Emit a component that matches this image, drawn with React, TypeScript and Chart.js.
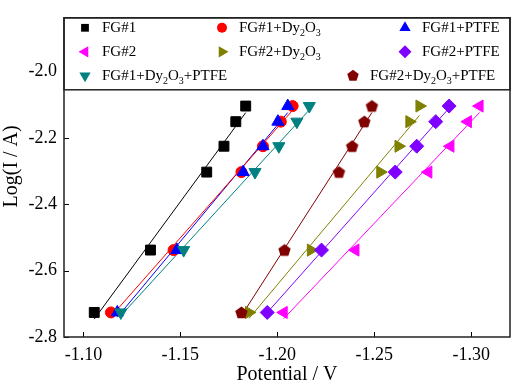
import React, { useEffect, useRef } from 'react';
import { Chart, registerables } from 'chart.js';

Chart.register(...registerables);

// log(I / A) levels at which every sample was measured
const logCurrent = [-2.726, -2.538, -2.303, -2.225, -2.151, -2.104];

// Potential (V) for each sample at the levels above
const fg1 = [-1.1056, -1.1346, -1.1636, -1.1725, -1.1786, -1.1837];
const fg1Dy = [-1.1142, -1.1465, -1.1815, -1.1926, -1.2018, -1.2079];
const fg1Ptfe = [-1.1175, -1.1482, -1.1824, -1.1926, -1.2003, -1.2054];
const fg2 = [-1.2033, -1.2403, -1.2779, -1.2893, -1.2983, -1.3043];
const fg2Dy = [-1.1854, -1.2173, -1.2531, -1.2625, -1.2681, -1.2733];
const fg2Ptfe = [-1.1948, -1.2228, -1.2608, -1.2719, -1.2817, -1.2886];
const fg1DyPtfe = [-1.1193, -1.1517, -1.1885, -1.2008, -1.2101, -1.2165];
const fg2DyPtfe = [-1.1815, -1.2037, -1.2318, -1.2386, -1.2449, -1.2488];

const xTicks = [-1.1, -1.15, -1.2, -1.25, -1.3];
const yTicks = [-2.8, -2.6, -2.4, -2.2, -2.0];

const SERIF = '"Liberation Serif", "Times New Roman", serif';

type Marker = 'rect' | 'circle' | 'triangle' | 'rectRot' | 'pentagon';

interface SeriesStyle {
  label: string;
  values: number[];
  color: string;
  marker: Marker;
  rotation: number;
  radius: number;
  legendRadius: number;
}

const series: SeriesStyle[] = [
  { label: 'FG#1', values: fg1, color: '#000000', marker: 'rect', rotation: 0, radius: 7, legendRadius: 5.5 },
  { label: 'FG#1+Dy₂O₃', values: fg1Dy, color: '#ff0000', marker: 'circle', rotation: 0, radius: 5.5, legendRadius: 5 },
  { label: 'FG#1+PTFE', values: fg1Ptfe, color: '#0000ff', marker: 'triangle', rotation: 0, radius: 7, legendRadius: 6.5 },
  { label: 'FG#2', values: fg2, color: '#ff00ff', marker: 'triangle', rotation: -90, radius: 7, legendRadius: 6.5 },
  { label: 'FG#2+Dy₂O₃', values: fg2Dy, color: '#808000', marker: 'triangle', rotation: 90, radius: 7, legendRadius: 6.5 },
  { label: 'FG#2+PTFE', values: fg2Ptfe, color: '#8000ff', marker: 'rectRot', rotation: 0, radius: 7, legendRadius: 6.5 },
  { label: 'FG#1+Dy₂O₃+PTFE', values: fg1DyPtfe, color: '#008080', marker: 'triangle', rotation: 180, radius: 7, legendRadius: 6.5 },
  { label: 'FG#2+Dy₂O₃+PTFE', values: fg2DyPtfe, color: '#800000', marker: 'pentagon', rotation: 0, radius: 6.5, legendRadius: 6 },
];

// legend slot offsets (marker centre) from the top-left corner of the plot area
const legendSlots = [
  { dx: 21, dy: 10 }, { dx: 158, dy: 10 }, { dx: 341, dy: 10 },
  { dx: 21, dy: 34 }, { dx: 158, dy: 34 }, { dx: 341, dy: 34 },
  { dx: 21, dy: 58 }, { dx: 289, dy: 58 },
];
const LEGEND_HEIGHT = 72;

function markerPath(ctx: CanvasRenderingContext2D, marker: Marker, x: number, y: number, r: number, rotation: number) {
  ctx.beginPath();
  if (marker === 'circle') {
    ctx.arc(x, y, r, 0, Math.PI * 2);
  } else if (marker === 'rect') {
    const s = r * Math.SQRT1_2;
    ctx.rect(x - s, y - s, 2 * s, 2 * s);
  } else {
    const n = marker === 'triangle' ? 3 : marker === 'rectRot' ? 4 : 5;
    const base = (rotation * Math.PI) / 180;
    for (let k = 0; k < n; k++) {
      const a = base + (k * 2 * Math.PI) / n;
      const px = x + Math.sin(a) * r;
      const py = y - Math.cos(a) * r;
      if (k === 0) ctx.moveTo(px, py);
      else ctx.lineTo(px, py);
    }
  }
  ctx.closePath();
}

function pentagonImage(r: number, color: string): HTMLCanvasElement {
  const size = Math.ceil(2 * r + 2);
  const c = document.createElement('canvas');
  c.width = size;
  c.height = size;
  const g = c.getContext('2d')!;
  g.fillStyle = color;
  markerPath(g, 'pentagon', size / 2, size / 2 + 0.5, r, 0);
  g.fill();
  return c;
}

// least-squares line through a series, drawn across its potential range
function fitLine(xs: number[], ys: number[]) {
  const n = xs.length;
  const mx = xs.reduce((s, v) => s + v, 0) / n;
  const my = ys.reduce((s, v) => s + v, 0) / n;
  let sxy = 0;
  let sxx = 0;
  for (let i = 0; i < n; i++) {
    sxy += (xs[i] - mx) * (ys[i] - my);
    sxx += (xs[i] - mx) * (xs[i] - mx);
  }
  const b = sxy / sxx;
  const a = my - b * mx;
  const x0 = xs[0];
  const x1 = xs[n - 1];
  return [
    { x: x0, y: a + b * x0 },
    { x: x1, y: a + b * x1 },
  ];
}

function drawRichLabel(ctx: CanvasRenderingContext2D, text: string, x: number, y: number) {
  const subs: Record<string, string> = { '₂': '2', '₃': '3' };
  let cx = x;
  let buf = '';
  const flush = () => {
    if (!buf) return;
    ctx.font = `15px ${SERIF}`;
    ctx.fillText(buf, cx, y);
    cx += ctx.measureText(buf).width;
    buf = '';
  };
  for (const ch of text) {
    if (subs[ch]) {
      flush();
      ctx.font = `10px ${SERIF}`;
      ctx.fillText(subs[ch], cx, y + 6);
      cx += ctx.measureText(subs[ch]).width;
    } else {
      buf += ch;
    }
  }
  flush();
}

const framePlugin = {
  id: 'frameAndLegend',
  afterDraw(chart: any) {
    const { ctx, chartArea: a, scales } = chart;
    ctx.save();
    ctx.strokeStyle = '#000';
    ctx.lineWidth = 1;
    ctx.beginPath();
    xTicks.forEach((v) => {
      const px = Math.round(scales.x.getPixelForValue(v)) + 0.5;
      ctx.moveTo(px, a.bottom);
      ctx.lineTo(px, a.bottom - 5);
    });
    yTicks.forEach((v) => {
      const py = Math.round(scales.y.getPixelForValue(v)) + 0.5;
      ctx.moveTo(a.left, py);
      ctx.lineTo(a.left + 5, py);
    });
    ctx.stroke();

    // legend box
    ctx.fillStyle = '#fff';
    ctx.fillRect(a.left, a.top, a.right - a.left, LEGEND_HEIGHT);
    ctx.lineWidth = 1.5;
    ctx.strokeStyle = '#222';
    ctx.strokeRect(a.left, a.top, a.right - a.left, LEGEND_HEIGHT);

    series.forEach((s, i) => {
      const slot = legendSlots[i];
      const mx = a.left + slot.dx;
      const my = a.top + slot.dy;
      ctx.fillStyle = s.color;
      markerPath(ctx, s.marker, mx, my, s.legendRadius, s.rotation);
      ctx.fill();
      ctx.fillStyle = '#000';
      ctx.textBaseline = 'middle';
      ctx.textAlign = 'left';
      drawRichLabel(ctx, s.label, mx + 17, my);
    });

    // plot frame
    ctx.lineWidth = 1.5;
    ctx.strokeStyle = '#222';
    ctx.strokeRect(a.left, a.top, a.right - a.left, a.bottom - a.top);

    // y-axis title
    ctx.fillStyle = '#000';
    ctx.font = `20px ${SERIF}`;
    ctx.textAlign = 'center';
    ctx.textBaseline = 'middle';
    ctx.translate(12, (a.top + a.bottom) / 2 - 11);
    ctx.rotate(-Math.PI / 2);
    ctx.fillText('Log(I / A)', 0, 0);
    ctx.restore();
  },
};

export default function App() {
  const canvasRef = useRef<HTMLCanvasElement | null>(null);

  useEffect(() => {
    if (!canvasRef.current) return;
    const pointDatasets = series.map((s, i) => ({
      type: 'scatter' as const,
      label: s.label,
      data: s.values.map((x, k) => ({ x, y: logCurrent[k] })),
      pointStyle: s.marker === 'pentagon' ? pentagonImage(s.radius, s.color) : s.marker,
      rotation: s.rotation,
      pointRadius: s.radius,
      pointBackgroundColor: s.color,
      pointBorderColor: s.color,
      pointBorderWidth: 1,
      showLine: false,
      order: -i,
    }));
    const lineDatasets = series.map((s) => ({
      type: 'scatter' as const,
      label: s.label + ' fit',
      data: fitLine(s.values, logCurrent),
      showLine: true,
      borderColor: s.color,
      borderWidth: 1,
      pointRadius: 0,
      order: 10,
    }));

    const chart = new Chart(canvasRef.current, {
      type: 'scatter',
      data: { datasets: [...pointDatasets, ...lineDatasets] as any },
      options: {
        responsive: false,
        animation: false,
        devicePixelRatio: 1,
        layout: { padding: { left: 0, right: 5, top: 5, bottom: 0 } },
        plugins: { legend: { display: false }, tooltip: { enabled: false } },
        scales: {
          x: {
            type: 'linear',
            reverse: true,
            min: -1.32,
            max: -1.09,
            afterBuildTicks: (scale: any) => {
              scale.ticks = xTicks.map((v) => ({ value: v }));
            },
            afterFit: (scale: any) => {
              scale.height = 53;
            },
            grid: { display: false, drawTicks: false },
            border: { display: false },
            ticks: {
              color: '#000',
              padding: 7,
              font: { family: SERIF, size: 18 },
              callback: (v: any) => Number(v).toFixed(2),
            },
            title: {
              display: true,
              text: 'Potential / V',
              color: '#000',
              font: { family: SERIF, size: 20 },
              padding: { top: 0, bottom: 3 },
            },
          },
          y: {
            type: 'linear',
            min: -2.8,
            max: -1.838,
            afterBuildTicks: (scale: any) => {
              scale.ticks = yTicks.map((v) => ({ value: v }));
            },
            afterFit: (scale: any) => {
              scale.width = 64;
            },
            grid: { display: false, drawTicks: false },
            border: { display: false },
            ticks: {
              color: '#000',
              padding: 7,
              font: { family: SERIF, size: 18 },
              callback: (v: any) => Number(v).toFixed(1),
            },
          },
        },
      },
      plugins: [framePlugin],
    });
    return () => chart.destroy();
  }, []);

  return (
    <div style={{ position: 'fixed', left: 0, top: 0, width: 518, height: 390, background: '#fff' }}>
      <canvas ref={canvasRef} width={518} height={390} />
    </div>
  );
}
